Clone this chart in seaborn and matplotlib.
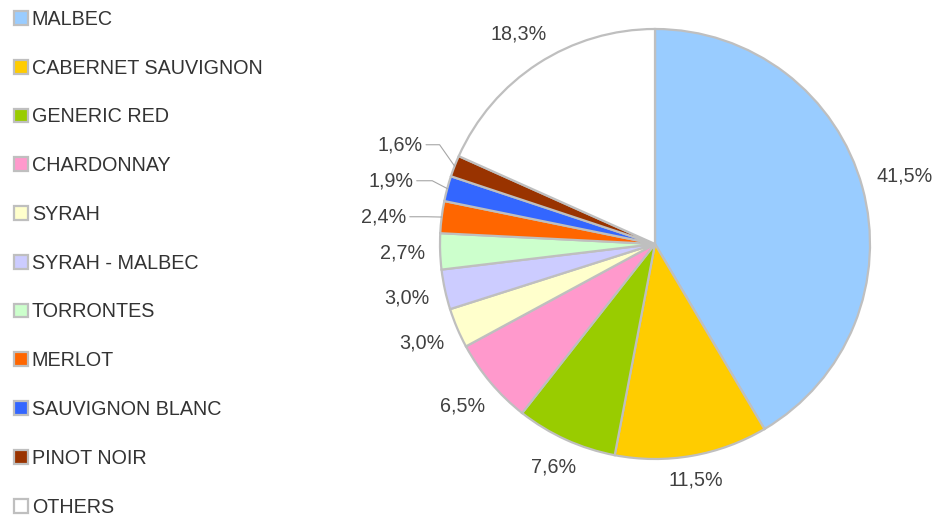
import numpy as np
import matplotlib
matplotlib.use('Agg')
import matplotlib.pyplot as plt
import seaborn as sns

# Wine varieties share (%)
varieties = ['MALBEC', 'CABERNET SAUVIGNON', 'GENERIC RED', 'CHARDONNAY', 'SYRAH',
             'SYRAH - MALBEC', 'TORRONTES', 'MERLOT', 'SAUVIGNON BLANC', 'PINOT NOIR', 'OTHERS']
shares = [41.5, 11.5, 7.6, 6.5, 3.0, 3.0, 2.7, 2.4, 1.9, 1.6, 18.3]
colors = ['#99CCFF', '#FFCC00', '#99CC00', '#FF99CC', '#FFFFCC', '#CCCCFF',
          '#CCFFCC', '#FF6600', '#3366FF', '#993300', '#FFFFFF']

sns.set_theme(style='white')
plt.rcParams['font.family'] = ['Liberation Sans', 'DejaVu Sans']

W, H = 934, 516
FS = 14.2
fig = plt.figure(figsize=(W / 100, H / 100), dpi=100)
ax = fig.add_axes([0, 0, 1, 1])

cx, cy, R = 655, 272, 215
wedges, _ = ax.pie(shares, colors=colors, startangle=90, counterclock=False,
                   center=(cx, cy), radius=R, frame=True,
                   wedgeprops=dict(edgecolor='#BFBFBF', linewidth=1.6))
ax.set_xlim(0, W)
ax.set_ylim(0, H)
ax.set_aspect('equal')
ax.axis('off')

fig.canvas.draw()
renderer = fig.canvas.get_renderer()

total = sum(shares)
cum = 0
gap = 15
prev_y = None
for v in shares:
    mid = np.deg2rad(90 - (cum + v / 2) / total * 360)
    cum += v
    c, s = np.cos(mid), np.sin(mid)
    lab = f'{v:.1f}%'.replace('.', ',')
    t = ax.text(0, 0, lab, fontsize=FS, color='#404040', ha='center', va='center')
    bb = t.get_window_extent(renderer)
    hw, hh = bb.width / 2, bb.height * 0.35
    if v < 2.5:
        # small slices: stacked above the previous label, with a leader line
        tx = cx + R * 1.27 * c
        ty = prev_y + 36
        t.set_position((tx, ty))
        ex, ey = cx + R * c, cy + R * s
        kx = tx + hw + 3
        bend = ex - 15
        ax.plot([kx, bend, ex], [ty, ty, ey], color='#A6A6A6', lw=0.8)
    else:
        # push the label out until its nearest corner clears the pie by `gap`
        d = R
        while True:
            qx = d * c - np.sign(c) * hw
            qy = d * s - np.sign(s) * hh
            if np.hypot(qx, qy) >= R + gap and qx * c + qy * s > 0:
                break
            d += 0.5
        ty = cy + d * s
        t.set_position((cx + d * c, ty))
    prev_y = ty

leg = fig.legend(wedges, varieties, loc='upper left', bbox_to_anchor=(0.002, 1.004),
                 frameon=False, fontsize=FS, labelspacing=1.51, handlelength=0.7,
                 handleheight=0.7, handletextpad=0.22, borderaxespad=0.2)
for txt in leg.get_texts():
    txt.set_color('#333333')

fig.savefig('out.png', dpi=100)
